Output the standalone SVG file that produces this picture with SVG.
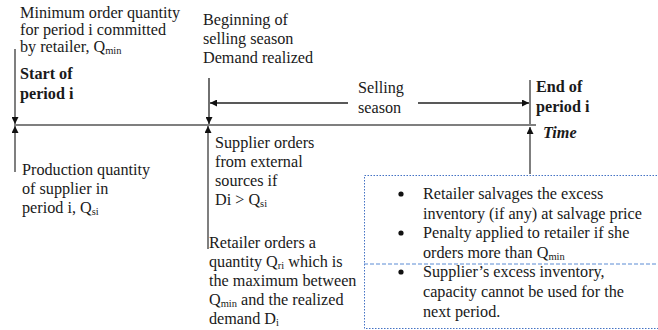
<svg xmlns="http://www.w3.org/2000/svg" width="658" height="330" viewBox="0 0 658 330">
<defs>
<marker id="ah" viewBox="0 0 10 10" refX="10" refY="5" markerWidth="7" markerHeight="7" markerUnits="userSpaceOnUse" orient="auto"><path d="M0,0 L10,5 L0,10 z" fill="#111"/></marker>
</defs>
<g id="connectors" fill="none">
<line stroke="#7f7f7f" stroke-width="2" x1="14" y1="125" x2="536" y2="125"/>
<line stroke="#7f7f7f" stroke-width="2" x1="15" y1="49" x2="15" y2="124" marker-end="url(#ah)"/>
<line stroke="#7f7f7f" stroke-width="2" x1="15" y1="172" x2="15" y2="126" marker-end="url(#ah)"/>
<line stroke="#222" stroke-width="1.3" x1="209" y1="78" x2="209" y2="124" marker-end="url(#ah)"/>
<line stroke="#7f7f7f" stroke-width="2" x1="208" y1="249" x2="208" y2="126" marker-end="url(#ah)"/>
<line stroke="#7f7f7f" stroke-width="2" x1="530" y1="80" x2="530" y2="124"/>
<line stroke="#7f7f7f" stroke-width="2" x1="530" y1="174" x2="530" y2="127" marker-end="url(#ah)"/>
<line stroke="#222" stroke-width="1.3" x1="348" y1="103" x2="210" y2="103" marker-end="url(#ah)"/>
<line stroke="#222" stroke-width="1.3" x1="418" y1="103" x2="529" y2="103" marker-end="url(#ah)"/>
</g>
<g id="minimum-order">
<text font-family="Liberation Serif" font-size="16.2" fill="#1a1a1a" x="20" y="18">Minimum order quantity</text>
<text font-family="Liberation Serif" font-size="16.2" fill="#1a1a1a" x="20" y="35">for period i committed</text>
<text font-family="Liberation Serif" font-size="16.2" fill="#1a1a1a" x="20" y="52">by retailer, Q<tspan font-size="10.5" dy="2">min</tspan></text>
</g>
<g id="start">
<text font-family="Liberation Serif" font-size="16.2" font-weight="bold" fill="#1a1a1a" x="20" y="79">Start of</text>
<text font-family="Liberation Serif" font-size="16.2" font-weight="bold" fill="#1a1a1a" x="20" y="99">period i</text>
</g>
<g id="beginning">
<text font-family="Liberation Serif" font-size="16.2" fill="#1a1a1a" x="203" y="25">Beginning of</text>
<text font-family="Liberation Serif" font-size="16.2" fill="#1a1a1a" x="203" y="44">selling season</text>
<text font-family="Liberation Serif" font-size="16.2" fill="#1a1a1a" x="203" y="63">Demand realized</text>
</g>
<g id="selling-season">
<text font-family="Liberation Serif" font-size="16.2" fill="#1a1a1a" x="358" y="93">Selling</text>
<text font-family="Liberation Serif" font-size="16.2" fill="#1a1a1a" x="358" y="113">season</text>
</g>
<g id="end">
<text font-family="Liberation Serif" font-size="16.2" font-weight="bold" fill="#1a1a1a" x="536" y="92">End of</text>
<text font-family="Liberation Serif" font-size="16.2" font-weight="bold" fill="#1a1a1a" x="536" y="112">period i</text>
<text font-family="Liberation Serif" font-size="16.2" font-weight="bold" font-style="italic" fill="#1a1a1a" x="543" y="138">Time</text>
</g>
<g id="production">
<text font-family="Liberation Serif" font-size="16.2" fill="#1a1a1a" x="22" y="175">Production quantity</text>
<text font-family="Liberation Serif" font-size="16.2" fill="#1a1a1a" x="22" y="194">of supplier  in</text>
<text font-family="Liberation Serif" font-size="16.2" fill="#1a1a1a" x="22" y="213">period i, Q<tspan font-size="10.5" dy="2">si</tspan></text>
</g>
<g id="supplier-orders">
<text font-family="Liberation Serif" font-size="16.2" fill="#1a1a1a" x="215" y="148">Supplier orders</text>
<text font-family="Liberation Serif" font-size="16.2" fill="#1a1a1a" x="215" y="167">from external</text>
<text font-family="Liberation Serif" font-size="16.2" fill="#1a1a1a" x="215" y="186">sources if</text>
<text font-family="Liberation Serif" font-size="16.2" fill="#1a1a1a" x="215" y="205">Di &gt; Q<tspan font-size="10.5" dy="2">si</tspan></text>
</g>
<g id="retailer-orders">
<text font-family="Liberation Serif" font-size="16.2" fill="#1a1a1a" x="209" y="248">Retailer orders a</text>
<text font-family="Liberation Serif" font-size="16.2" fill="#1a1a1a" x="209" y="267">quantity Q<tspan font-size="10.5" dy="2">ri</tspan><tspan dy="-2"> which is</tspan></text>
<text font-family="Liberation Serif" font-size="16.2" fill="#1a1a1a" x="209" y="286">the maximum between</text>
<text font-family="Liberation Serif" font-size="16.2" fill="#1a1a1a" x="209" y="305">Q<tspan font-size="10.5" dy="2">min</tspan><tspan dy="-2"> and the realized</tspan></text>
<text font-family="Liberation Serif" font-size="16.2" fill="#1a1a1a" x="209" y="324">demand D<tspan font-size="10.5" dy="2">i</tspan></text>
</g>
<g id="end-notes">
<rect fill="none" stroke="#4472c4" stroke-width="1" stroke-dasharray="1.5 1.5" x="364.5" y="175.5" width="300" height="153"/>
<line stroke="#5b8bd4" stroke-width="1" stroke-dasharray="4 2" x1="364" y1="264" x2="658" y2="264"/>
<circle cx="401" cy="194" r="2.6" fill="#111"/>
<circle cx="401" cy="233" r="2.6" fill="#111"/>
<circle cx="401" cy="272" r="2.6" fill="#111"/>
<text font-family="Liberation Serif" font-size="16.2" fill="#1a1a1a" x="423" y="199">Retailer salvages the excess</text>
<text font-family="Liberation Serif" font-size="16.2" fill="#1a1a1a" x="423" y="219">inventory (if any) at salvage price</text>
<text font-family="Liberation Serif" font-size="16.2" fill="#1a1a1a" x="423" y="238">Penalty applied to retailer if she</text>
<text font-family="Liberation Serif" font-size="16.2" fill="#1a1a1a" x="423" y="258">orders more than Q<tspan font-size="10.5" dy="2">min</tspan></text>
<text font-family="Liberation Serif" font-size="16.2" fill="#1a1a1a" x="423" y="277">Supplier’s excess inventory,</text>
<text font-family="Liberation Serif" font-size="16.2" fill="#1a1a1a" x="423" y="297">capacity cannot be used for the</text>
<text font-family="Liberation Serif" font-size="16.2" fill="#1a1a1a" x="423" y="317">next period.</text>
</g>
</svg>
